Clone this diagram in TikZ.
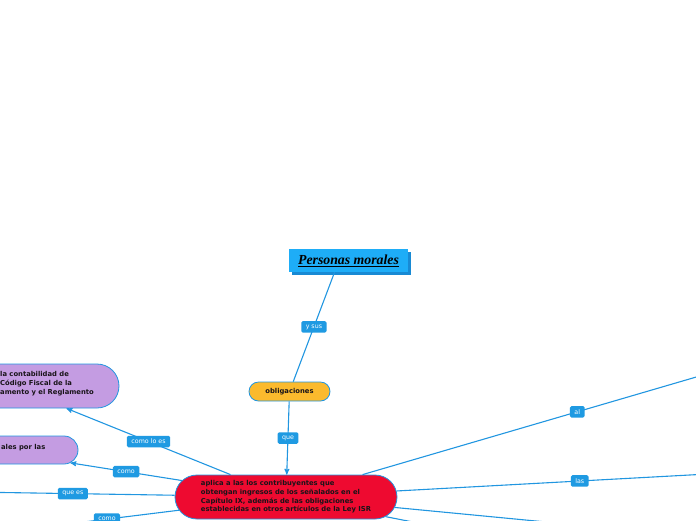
\documentclass[tikz,border=0pt]{standalone}
\usepackage{fontspec}
\setmainfont{DejaVu Sans}
\newfontfamily\titlefont{Liberation Serif}
\usepackage{tikz}
\usetikzlibrary{arrows,positioning,shapes.misc,shadows}
\definecolor{linkblue}{RGB}{33,150,224}
\definecolor{tagblue}{RGB}{31,154,226}
\definecolor{skyblue}{RGB}{30,173,247}
\definecolor{skyshadow}{RGB}{24,138,212}
\definecolor{amber}{RGB}{251,186,45}
\definecolor{crimson}{RGB}{238,10,48}
\definecolor{lilac}{RGB}{196,156,226}
\definecolor{ink}{RGB}{25,20,25}
\tikzset{
    %Define standard arrow tip
    >=stealth',
    %Define style for boxes
    titlebox/.style={
           rectangle,
           fill=skyblue,
           minimum width=119pt,
           minimum height=23pt,
           inner sep=0pt,
           font=\titlefont\fontsize{13.8}{15}\selectfont\bfseries\itshape,
           text=black,
           drop shadow={shadow xshift=3pt,shadow yshift=-3pt,fill=skyshadow,opacity=1},
           text centered},
    pillrect/.style={
           rounded rectangle,
           draw=linkblue, line width=0.8pt,
           inner xsep=0pt,
           inner ysep=0pt,
           font=\fontsize{6.8}{8.7}\selectfont\bfseries,
           text=ink,
           text centered},
    cliptext/.style={
           inner sep=0pt,
           align=left,
           font=\fontsize{6.8}{8.7}\selectfont\bfseries,
           text=ink},
    lblbox/.style={
           rectangle,
           rounded corners=1.5pt,
           fill=tagblue,
           text=white,
           inner xsep=4.5pt,
           inner ysep=0pt,
           minimum height=11.5pt,
           font=\fontsize{6.3}{7}\selectfont},
    % Define connector style
    every edge/.style={
           draw=linkblue,
           line width=1.1pt}
}

\begin{document}
\begin{tikzpicture}[x=1pt,y=-1pt,->,shorten >=0pt,shorten <=0pt,node/.style={pillrect},lt/.style={lblbox}]
\useasboundingbox (0,0) rectangle (696,520);
\node[titlebox](1) at (348.5,260.5){\underline{Personas morales}};
\node[node, fill=amber, minimum width=81pt, minimum height=19pt](2) at (289.5,391.5){obligaciones};
\node[node, fill=crimson, minimum width=222pt, minimum height=44pt, align=left](3) at (286,497){aplica a las los contribuyentes que\\obtengan ingresos de los señalados en el\\Capítulo IX, además de las obligaciones\\establecidas en otros artículos de la Ley ISR};
\node[node, fill=lilac, minimum width=216pt, minimum height=44pt](4) at (11,386){};
\node[node, fill=lilac, minimum width=178pt, minimum height=28pt](5) at (-11,450){};
\node[cliptext, anchor=west](4a) at (0,383.5){la contabilidad de\\Código Fiscal de la\\amento y el Reglamento};
\node[cliptext, anchor=east](5a) at (45.5,448){ales por las};
\coordinate (6) at (-29,492);
\coordinate (7) at (35,528);
\coordinate (8) at (792,349);
\coordinate (9) at (763,471);
\coordinate (10) at (640,531);
\coordinate (11) at (560,551);
\path[-]
	(1.220) edge node[lt]{y sus} (2);
\path[]
	(2) edge node[lt]{que} (3)
	(3) edge node[lt]{como lo es} (4)
	(3) edge node[lt]{como} (5)
	(3) edge node[lt]{que es} (6)
	(3) edge node[lt]{como} (7)
	(3) edge node[lt]{al} (8)
	(3) edge node[lt]{las} (9)
	(3) edge (10)
	(3) edge (11);
\end{tikzpicture}
\end{document}
